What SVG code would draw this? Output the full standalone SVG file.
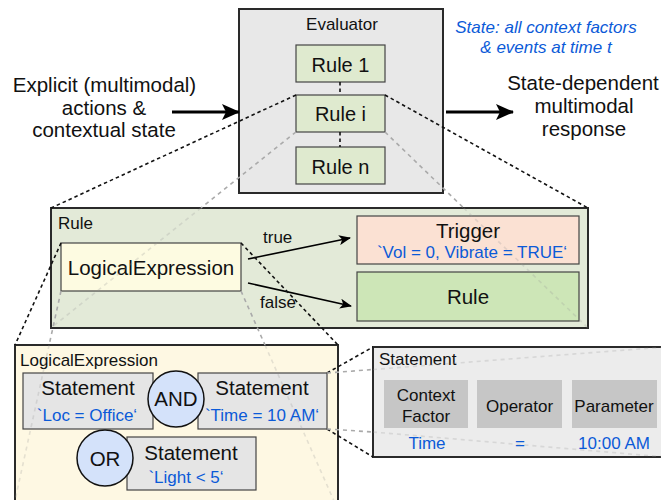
<svg xmlns="http://www.w3.org/2000/svg" width="661" height="500" viewBox="0 0 661 500">
<style>
text{font-family:"Liberation Sans",Arial,Helvetica,sans-serif;fill:#111}
.m{text-anchor:middle}
.blue{fill:#0b5ad8}
.s17{font-size:17px}
.s20{font-size:20px}
.big{font-size:20.5px}
.box{stroke:#444;stroke-width:1.2}
.frame{stroke:#2a2a2a;stroke-width:2}
.blk{stroke:#111;stroke-width:1.6;stroke-dasharray:3.5 3;fill:none}
.gry{stroke:#aaa;stroke-width:1.6;stroke-dasharray:4 4;fill:none}
.fnt{stroke:#999;stroke-opacity:0.25;stroke-width:1.6;stroke-dasharray:4 4;fill:none}
.arr{stroke:#000;fill:none}
</style>
<defs>
<marker id="bigHead" markerUnits="userSpaceOnUse" viewBox="0 0 18 16" refX="17" refY="8" markerWidth="18" markerHeight="16" orient="auto">
<path d="M0,0 L18,8 L0,16 L4,8 z" fill="#000"/>
</marker>
<marker id="smallHead" markerUnits="userSpaceOnUse" viewBox="0 0 12 10" refX="11" refY="5" markerWidth="12" markerHeight="10" orient="auto">
<path d="M0,0 L12,5 L0,10 L3,5 z" fill="#000"/>
</marker>
</defs>
<rect width="661" height="500" fill="#fff"/>

<g id="input-label">
<text class="big m" x="104.5" y="92">Explicit (multimodal)</text>
<text class="big m" x="104" y="115">actions &amp;</text>
<text class="big m" x="104" y="137">contextual state</text>
</g>

<g id="output-label">
<text class="big m" x="583" y="90">State-dependent</text>
<text class="big m" x="584" y="113">multimodal</text>
<text class="big m" x="584" y="136">response</text>
</g>

<g id="state-note">
<text class="s17 m blue" font-style="italic" x="546" y="33">State: all context factors</text>
<text class="s17 m blue" font-style="italic" x="546" y="53">&amp; events at time t</text>
</g>

<g id="evaluator">
<rect class="frame" x="239" y="9" width="204" height="184" fill="#e8e8e8"/>
<text class="s17 m" x="342" y="30">Evaluator</text>
</g>
<g id="rule-1">
<rect class="box" x="296" y="45" width="89" height="37" fill="#dfeacf"/>
<text class="s20 m" x="340.5" y="72">Rule 1</text>
</g>
<g id="rule-i">
<rect class="box" x="296" y="95" width="89" height="37" fill="#dfeacf"/>
<text class="s20 m" x="340.5" y="121">Rule i</text>
</g>
<g id="rule-n">
<rect class="box" x="296" y="147" width="89" height="37" fill="#dfeacf"/>
<text class="s20 m" x="340.5" y="174">Rule n</text>
</g>

<g id="rule-detail">
<rect class="frame" x="51" y="208" width="537" height="120" fill="#e3ead8"/>
<text class="s17" x="58" y="229">Rule</text>
</g>
<g id="logical-expression-node">
<rect class="box" x="61" y="243" width="180" height="48" fill="#fdfbe1"/>
<text class="big m" x="151" y="275">LogicalExpression</text>
</g>
<g id="trigger">
<rect class="box" x="357" y="216" width="222" height="48" fill="#fbe1d3"/>
<text class="big m" x="468" y="238">Trigger</text>
<text class="s17 m blue" x="472" y="258">`Vol = 0, Vibrate = TRUE‘</text>
</g>
<g id="rule-next">
<rect class="box" x="357" y="272" width="222" height="49" fill="#cde6b7"/>
<text class="big m" x="468" y="304">Rule</text>
</g>

<g id="logical-expression-detail">
<rect class="frame" x="15" y="345" width="323" height="170" fill="#fef8e3" stroke-width="1.6"/>
<text class="s17" x="20" y="366">LogicalExpression</text>
</g>
<g id="statement-loc">
<rect class="box" x="23" y="373" width="130" height="56" fill="#e5e5e5"/>
<text class="big m" x="88" y="395">Statement</text>
<text class="s17 m blue" x="87" y="421">`Loc = Office‘</text>
</g>
<g id="statement-time">
<rect class="box" x="198" y="373" width="129" height="56" fill="#e5e5e5"/>
<text class="big m" x="262" y="395">Statement</text>
<text class="s17 m blue" x="262" y="421">`Time = 10 AM‘</text>
</g>
<g id="and-op">
<circle cx="176" cy="399" r="28" fill="#d4e2fa" stroke="#111" stroke-width="1.5"/>
<text class="big m" x="176" y="406">AND</text>
</g>
<g id="statement-light">
<rect class="box" x="127" y="437" width="129" height="53" fill="#e5e5e5"/>
<text class="big m" x="191" y="460">Statement</text>
<text class="s17 m blue" x="186" y="483">`Light &lt; 5‘</text>
</g>
<g id="or-op">
<circle cx="105" cy="458" r="28" fill="#d4e2fa" stroke="#111" stroke-width="1.5"/>
<text class="big m" x="105" y="466">OR</text>
</g>

<g id="statement-detail">
<rect class="frame" x="373" y="347" width="295" height="110" fill="#ececec" stroke-width="1.6"/>
<text class="s17" x="379" y="365">Statement</text>
</g>
<g id="context-factor">
<rect x="384" y="380" width="84" height="48" fill="#c6c6c6"/>
<text class="s17 m" x="426" y="401">Context</text>
<text class="s17 m" x="426" y="422">Factor</text>
<text class="s17 m blue" x="427" y="449">Time</text>
</g>
<g id="operator">
<rect x="477" y="380" width="85" height="48" fill="#c6c6c6"/>
<text class="s17 m" x="519.5" y="412">Operator</text>
<text class="s17 m blue" x="520" y="449">=</text>
</g>
<g id="parameter">
<rect x="572" y="380" width="85" height="48" fill="#c6c6c6"/>
<text class="s17 m" x="614" y="412">Parameter</text>
<text class="s17 m blue" x="614" y="449">10:00 AM</text>
</g>

<g id="connectors">
<line class="arr" x1="172" y1="112" x2="239" y2="112" stroke-width="3" marker-end="url(#bigHead)"/>
<line class="arr" x1="446" y1="112" x2="513" y2="112" stroke-width="3" marker-end="url(#bigHead)"/>
<line class="blk" x1="340" y1="82" x2="340" y2="95"/>
<line class="blk" x1="340" y1="132" x2="340" y2="147"/>
<line class="arr" x1="248" y1="259" x2="350" y2="238" stroke-width="1.6" marker-end="url(#smallHead)"/>
<line class="arr" x1="248" y1="283" x2="351" y2="306" stroke-width="1.6" marker-end="url(#smallHead)"/>
<text class="s17" x="263" y="243">true</text>
<text class="s17" x="260" y="308">false</text>
<line class="blk" x1="296" y1="95" x2="51" y2="208"/>
<line class="blk" x1="385" y1="95" x2="588" y2="208"/>
<line class="gry" x1="296" y1="132" x2="201" y2="208"/>
<line class="fnt" x1="201" y1="208" x2="51" y2="328"/>
<line class="gry" x1="385" y1="132" x2="463.7" y2="208"/>
<line class="fnt" x1="463.7" y1="208" x2="588" y2="328"/>
<line class="blk" x1="61" y1="243" x2="15" y2="345"/>
<line class="blk" x1="241" y1="243" x2="338" y2="345"/>
<line class="gry" x1="61" y1="291" x2="49.1" y2="345"/>
<line class="fnt" x1="49.1" y1="345" x2="14" y2="505"/>
<line class="gry" x1="241" y1="291" x2="265" y2="345"/>
<line class="fnt" x1="265" y1="345" x2="338" y2="510"/>
<line class="blk" x1="327" y1="373" x2="373" y2="347"/>
<line class="blk" x1="327" y1="429" x2="373" y2="457"/>
<line class="gry" x1="327" y1="373" x2="373" y2="369.5"/>
<line class="fnt" x1="373" y1="369.5" x2="665" y2="347"/>
<line class="gry" x1="327" y1="429" x2="373" y2="432"/>
<line class="fnt" x1="373" y1="432" x2="665" y2="457"/>
</g>
</svg>
